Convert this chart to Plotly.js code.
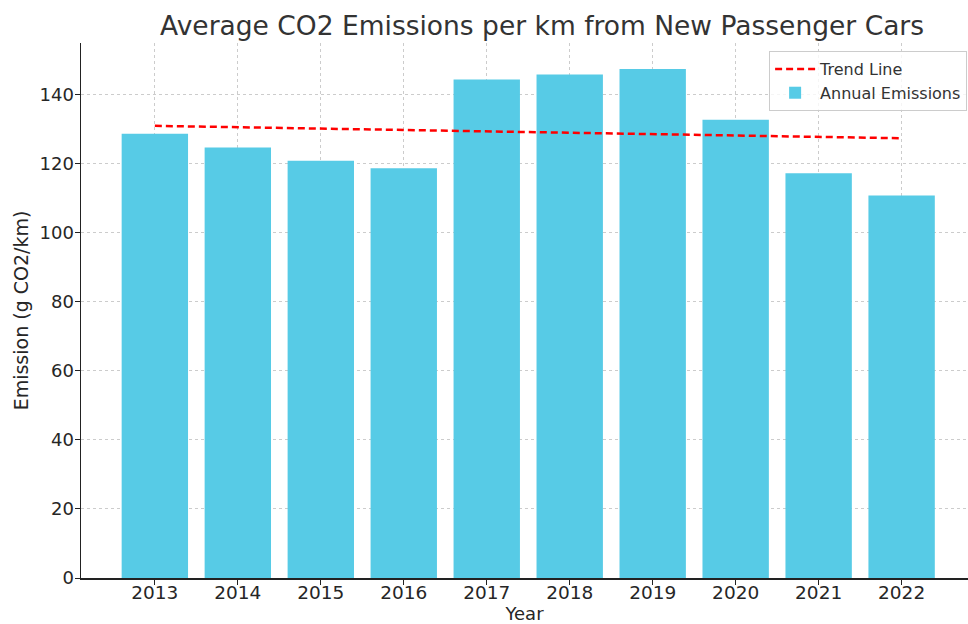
<!DOCTYPE html>
<html>
<head>
<meta charset="utf-8">
<script src="https://cdn.plot.ly/plotly-3.0.1.min.js"></script>
<style>body{margin:0;padding:0;background:#fff;}#chart{width:968px;height:624px;}</style>
</head>
<body>
<div id="chart"></div>
<script>
const years = [2013, 2014, 2015, 2016, 2017, 2018, 2019, 2020, 2021, 2022];
const emissions = [128.7, 124.7, 120.9, 118.7, 144.4, 145.9, 147.5, 132.8, 117.3, 110.8];
const trend = [131.0, 130.6, 130.2, 129.8, 129.4, 129.0, 128.6, 128.2, 127.8, 127.4];
const tickLabels = ["2013", "2014", "2015", "2016", "2017", "2018", "2019", "2020", "2021", "2022"];

const font = "DejaVu Sans, sans-serif";
const data = [
  {
    type: "scatter", mode: "lines", x: years, y: trend, name: "Trend Line",
    line: {color: "#ff0000", width: 2.5, dash: "7px,4px"}
  },
  {
    type: "bar", x: years, y: emissions, name: "Annual Emissions",
    marker: {color: "#57cbe6"}, width: 0.8
  }
];
const layout = {
  width: 968, height: 624,
  margin: {l: 81, r: 0, t: 43, b: 46},
  paper_bgcolor: "#fff", plot_bgcolor: "#fff",
  font: {family: font, color: "#262626", size: 18},
  title: {text: "Average CO2 Emissions per km from New Passenger Cars", font: {family: font, size: 26.5, color: "#333"}, x: 0.56, xanchor: "center", y: 0.958, yanchor: "middle"},
  showlegend: true,
  legend: {x: 0.999, xanchor: "right", y: 0.985, yanchor: "top", bgcolor: "rgba(255,255,255,0.8)", bordercolor: "#cccccc", borderwidth: 1, font: {family: font, size: 16, color: "#333"}, traceorder: "normal", itemwidth: 40, tracegroupgap: 0},
  xaxis: {
    range: [2012.11, 2022.8], tickmode: "array", tickvals: years, ticktext: tickLabels,
    showgrid: true, gridcolor: "#cccccc", griddash: "3px,3px", gridwidth: 1,
    showline: true, linecolor: "#222", linewidth: 1.5, ticks: "outside", ticklen: 5, tickcolor: "#222",
    zeroline: false, ticklabelstandoff: -8,
    title: {text: "Year", font: {family: font, size: 18, color: "#262626"}, standoff: 18},
    tickfont: {size: 18.5}
  },
  yaxis: {
    range: [0, 155], tickvals: [0, 20, 40, 60, 80, 100, 120, 140],
    showgrid: true, gridcolor: "#cccccc", griddash: "3px,3px", gridwidth: 1,
    showline: true, linecolor: "#222", linewidth: 1.5, ticks: "outside", ticklen: 5, tickcolor: "#222",
    zeroline: false, ticklabelstandoff: -3,
    title: {text: "Emission (g CO2/km)", font: {family: font, size: 19, color: "#262626"}, standoff: 6},
    tickfont: {size: 18}
  },
  bargap: 0.2
};
Plotly.newPlot("chart", data, layout, {displayModeBar: false, staticPlot: true});
</script>
</body>
</html>
